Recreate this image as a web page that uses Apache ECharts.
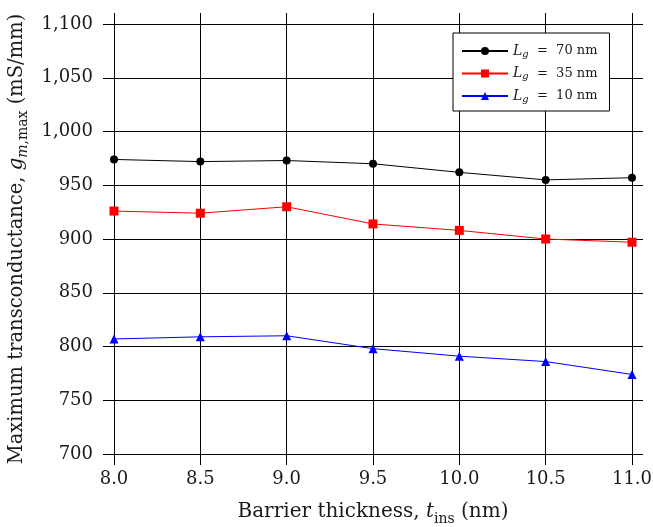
<!DOCTYPE html>
<html>
<head>
<meta charset="utf-8">
<script src="https://cdn.jsdelivr.net/npm/echarts@6/dist/echarts.min.js"></script>
<style>
  html, body { margin: 0; padding: 0; background: #fff; }
  #chart { width: 653px; height: 527px; }
</style>
</head>
<body>
<div id="chart"></div>
<script>
// Barrier thickness (nm) and peak transconductance (mS/mm) per gate length
const thickness = [8.0, 8.5, 9.0, 9.5, 10.0, 10.5, 11.0];
const gateLengths = [70, 35, 10];
const gm70 = [974, 972, 973, 970, 962, 955, 957];
const gm35 = [926, 924, 930, 914, 908, 900, 897];
const gm10 = [807, 809, 810, 798, 791, 786, 774];
const yTicks = [700, 750, 800, 850, 900, 950, 1000, 1050, 1100];

const FONT = '"DejaVu Serif", "Liberation Serif", serif';
const INK = '#1a1a1a';

const seriesValues = [gm70, gm35, gm10];
const seriesColors = ['#000000', '#ff0000', '#0000ff'];
const seriesSymbols = ['circle', 'rect', 'triangle'];
const seriesSizes = [8, 9, 9];

const pairs = v => thickness.map((x, i) => [x, v[i]]);

// rich-text styles for axis titles with italic symbols and subscripts
function titleRich(size) {
  const sub = Math.round(size * 0.7);
  return {
    rm: { fontFamily: FONT, fontSize: size, color: INK, lineHeight: size + 8, verticalAlign: 'middle' },
    it: { fontFamily: FONT, fontSize: size, color: INK, fontStyle: 'italic', lineHeight: size + 8, verticalAlign: 'middle' },
    subRm: { fontFamily: FONT, fontSize: sub, color: INK, lineHeight: sub, verticalAlign: 'bottom' },
    subIt: { fontFamily: FONT, fontSize: sub, color: INK, fontStyle: 'italic', lineHeight: sub, verticalAlign: 'bottom' }
  };
}

const legendRich = {
  it: { fontFamily: FONT, fontSize: 14, color: INK, fontStyle: 'italic', lineHeight: 16, verticalAlign: 'middle' },
  sub: { fontFamily: FONT, fontSize: 10, color: INK, fontStyle: 'italic', lineHeight: 10, verticalAlign: 'bottom' },
  rm: { fontFamily: FONT, fontSize: 13, color: INK, lineHeight: 16, verticalAlign: 'middle' }
};

const names = gateLengths.map(l => 'Lg = ' + l + ' nm');

const chart = echarts.init(document.getElementById('chart'), null, { renderer: 'canvas' });

const gridLine = { show: true, lineStyle: { color: '#000', width: 1 } };

chart.setOption({
  animation: false,
  backgroundColor: '#fff',
  grid: { left: 114, top: 24, width: 518, height: 430, containLabel: false, outerBoundsMode: 'none' },
  legend: {
    data: names,
    orient: 'vertical',
    left: 453,
    top: 33,
    padding: [11, 12, 7, 8],
    itemGap: 7.5,
    itemWidth: 46,
    itemHeight: 10,
    backgroundColor: '#fff',
    borderColor: '#000',
    borderWidth: 1,
    borderRadius: 0,
    textStyle: { fontFamily: FONT, fontSize: 13, color: INK, rich: legendRich },
    formatter: name => {
      const l = name.replace('Lg = ', '').replace(' nm', '');
      return '{it|L}{sub|g}{rm|  =  ' + l + ' nm}';
    }
  },
  xAxis: [
    {
      type: 'value',
      position: 'bottom',
      min: 8, max: 11, interval: 0.5,
      axisLine: { show: true, onZero: false, lineStyle: { color: '#000', width: 1 } },
      axisTick: { show: true, inside: false, length: 11, lineStyle: { color: '#000', width: 1 } },
      splitLine: gridLine,
      axisLabel: {
        margin: 16,
        fontFamily: FONT, fontSize: 18, color: INK,
        formatter: v => v.toFixed(1)
      },
      name: '{rm|Barrier thickness, }{it|t}{subRm|ins}{rm| (nm)}',
      nameLocation: 'middle',
      nameGap: 44,
      nameTextStyle: { fontFamily: FONT, fontSize: 20, color: INK, rich: titleRich(20) }
    },
    {
      type: 'value',
      position: 'top',
      min: 8, max: 11, interval: 0.5,
      axisLine: { show: true, onZero: false, lineStyle: { color: '#000', width: 1 } },
      axisTick: { show: true, inside: false, length: 11, lineStyle: { color: '#000', width: 1 } },
      splitLine: { show: false },
      axisLabel: { show: false }
    }
  ],
  yAxis: [
    {
      type: 'value',
      position: 'left',
      min: yTicks[0], max: yTicks[yTicks.length - 1], interval: 50,
      axisLine: { show: true, onZero: false, lineStyle: { color: '#000', width: 1 } },
      axisTick: { show: true, inside: false, length: 11, lineStyle: { color: '#000', width: 1 } },
      splitLine: gridLine,
      axisLabel: {
        margin: 21,
        fontFamily: FONT, fontSize: 18, color: INK,
        formatter: v => v.toLocaleString('en-US')
      },
      name: '{rm|Maximum transconductance, }{it|g}{subIt|m}{subRm|,max}{rm| (mS/mm)}',
      nameLocation: 'middle',
      nameRotate: 90,
      nameGap: 76,
      nameTextStyle: { fontFamily: FONT, fontSize: 19.5, color: INK, rich: titleRich(19.5) }
    },
    {
      type: 'value',
      position: 'right',
      min: yTicks[0], max: yTicks[yTicks.length - 1], interval: 50,
      axisLine: { show: true, onZero: false, lineStyle: { color: '#000', width: 1 } },
      axisTick: { show: true, inside: false, length: 11, lineStyle: { color: '#000', width: 1 } },
      splitLine: { show: false },
      axisLabel: { show: false }
    }
  ],
  series: seriesValues.map((vals, i) => ({
    name: names[i],
    type: 'line',
    xAxisIndex: 0,
    yAxisIndex: 0,
    data: pairs(vals),
    symbol: seriesSymbols[i],
    symbolSize: seriesSizes[i],
    showAllSymbol: true,
    clip: false,
    lineStyle: { color: seriesColors[i], width: 1 },
    itemStyle: { color: seriesColors[i] },
    z: 5
  }))
});
</script>
</body>
</html>
